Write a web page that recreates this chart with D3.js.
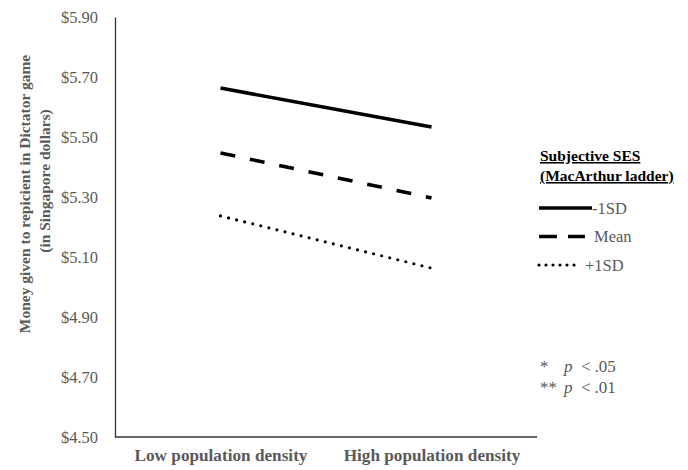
<!DOCTYPE html>
<html>
<head>
<meta charset="utf-8">
<script src="https://cdn.jsdelivr.net/npm/d3@7"></script>
<style>
  html, body { margin: 0; padding: 0; background: #fff; }
  svg { display: block; font-family: "Liberation Serif", "Times New Roman", serif; }
</style>
</head>
<body>
<svg id="chart" width="688" height="470"></svg>
<script>
// Population density conditions on the x axis
const categories = ["Low population density", "High population density"];
// Subjective SES levels (MacArthur ladder)
const seriesNames = ["-1SD", "Mean", "+1SD"];
// Money given (SGD) for each SES level, in category order
const valuesMinus1SD = [5.663, 5.533];
const valuesMean = [5.447, 5.297];
const valuesPlus1SD = [5.237, 5.063];
// Y axis ticks
const yTicks = [4.50, 4.70, 4.90, 5.10, 5.30, 5.50, 5.70, 5.90];
const yTitleLines = ["Money given to repicient in Dictator game", "(in Singapore dollars)"];
const legendTitle = ["Subjective SES", "(MacArthur ladder)"];
const noteLines = [["*", "p", "<", ".05"], ["**", "p", "<", ".01"]];

const series = [
  { name: seriesNames[0], values: valuesMinus1SD, style: "solid" },
  { name: seriesNames[1], values: valuesMean, style: "dash" },
  { name: seriesNames[2], values: valuesPlus1SD, style: "dot" }
];
const strokeStyle = {
  solid: { width: 3.6, cap: "butt", plot: null, key: null },
  dash: { width: 3.6, cap: "butt", plot: "15,15", key: "18,11" },
  dot: { width: 3.2, cap: "round", plot: "0,8.3", key: "0,7" }
};

const svg = d3.select("#chart");
const plotLeft = 115, plotRight = 537, plotTop = 17, plotBottom = 437;
const grey = "#595959";

const x = d3.scalePoint().domain(categories).range([plotLeft, plotRight]).padding(0.5);
const y = d3.scaleLinear().domain([4.5, 5.9]).range([plotBottom, plotTop]);

// Axes: plain lines, no tick marks
const yAxis = svg.append("g").attr("transform", `translate(${plotLeft},0)`)
  .call(d3.axisLeft(y).tickValues(yTicks).tickSize(0).tickPadding(17)
    .tickFormat(d => "$" + d3.format(".2f")(d)));
yAxis.select(".domain").attr("stroke", "#333").attr("stroke-width", 1.3);
yAxis.selectAll("text").attr("font-family", "Liberation Serif").attr("font-size", 16.5)
  .attr("fill", grey).attr("dy", "0.33em");

const xAxis = svg.append("g").attr("transform", `translate(0,${plotBottom})`)
  .call(d3.axisBottom(x).tickSize(0).tickPadding(14));
xAxis.select(".domain").attr("stroke", "#333").attr("stroke-width", 1.3)
  .attr("d", `M${plotLeft},0H${plotRight}`);
xAxis.selectAll("text").attr("font-family", "Liberation Serif").attr("font-size", 17.2)
  .attr("font-weight", "bold").attr("fill", grey).attr("dy", "0.6em");

// Y axis title
const yCenters = [[25, 194], [45, 181]];
yTitleLines.forEach((t, i) => {
  svg.append("text")
    .attr("transform", `translate(${yCenters[i][0]},${yCenters[i][1]}) rotate(-90)`)
    .attr("text-anchor", "middle").attr("dy", "0.35em")
    .attr("font-size", 15.5).attr("font-weight", "bold").attr("fill", grey)
    .text(t);
});

// Lines
const line = d3.line().x((d, i) => x(categories[i])).y(d => y(d));
svg.append("g").selectAll("path").data(series).join("path")
  .attr("d", d => line(d.values))
  .attr("fill", "none").attr("stroke", "#000")
  .attr("stroke-width", d => strokeStyle[d.style].width)
  .attr("stroke-linecap", d => strokeStyle[d.style].cap)
  .attr("stroke-dasharray", d => strokeStyle[d.style].plot);

// Legend
const lg = svg.append("g");
legendTitle.forEach((t, i) => {
  lg.append("text").attr("x", 540).attr("y", 161 + i * 20)
    .attr("font-size", 15.5).attr("font-weight", "bold").attr("fill", "#000")
    .attr("text-decoration", "underline").text(t);
});
const keyEnd = { solid: 592, dash: 585, dot: 576 };
const labelX = { solid: 592, dash: 594, dot: 585 };
series.forEach((s, i) => {
  const ly = 208 + i * 28.5;
  const st = strokeStyle[s.style];
  lg.append("line").attr("x1", 539).attr("x2", keyEnd[s.style]).attr("y1", ly).attr("y2", ly)
    .attr("stroke", "#000")
    .attr("stroke-width", st.width)
    .attr("stroke-linecap", st.cap)
    .attr("stroke-dasharray", st.key);
  lg.append("text").attr("x", labelX[s.style]).attr("y", ly).attr("dy", "0.35em")
    .attr("font-size", 16.5).attr("fill", grey).text(s.name);
});

// Significance notes
noteLines.forEach((n, i) => {
  const t = svg.append("text").attr("x", 540).attr("y", 372 + i * 21)
    .attr("font-size", 17).attr("fill", grey);
  t.append("tspan").text(n[0]);
  t.append("tspan").attr("x", 564).attr("font-style", "italic").text(n[1]);
  t.append("tspan").attr("x", 581).text(n[2]);
  t.append("tspan").attr("dx", 4).text(n[3]);
});
</script>
</body>
</html>
